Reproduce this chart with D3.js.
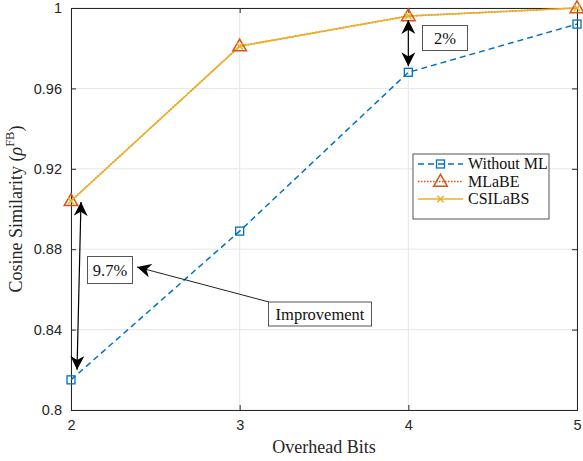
<!DOCTYPE html>
<html>
<head>
<meta charset="utf-8">
<script src="https://cdn.jsdelivr.net/npm/d3@7"></script>
<style>
  html, body { margin: 0; padding: 0; background: #fff; }
  svg { display: block; }
</style>
</head>
<body>
<svg id="chart" width="583" height="461"></svg>
<script>
// Overhead bits on the x axis
const overheadBits = [2, 3, 4, 5];
// Cosine similarity for each scheme
const withoutML = [0.815, 0.889, 0.968, 0.992];
const mlabe     = [0.904, 0.981, 0.996, 1.000];
const csilabs   = [0.904, 0.981, 0.996, 1.000];
const yTicks = [0.8, 0.84, 0.88, 0.92, 0.96, 1];
const xTicks = [2, 3, 4, 5];

const series = [
  { name: "Without ML", values: withoutML, color: "#0072BD", dash: "6,4", marker: "square" },
  { name: "MLaBE",      values: mlabe,     color: "#D95319", dash: "1.5,1.5", marker: "triangle" },
  { name: "CSILaBS",    values: csilabs,   color: "#EDB120", dash: null, marker: "cross" }
];

const svg = d3.select("#chart");
const m = { left: 71, right: 6, top: 8, bottom: 51 };
const W = 583, H = 461;
const x = d3.scaleLinear().domain([2, 5]).range([m.left, W - m.right]);
const y = d3.scaleLinear().domain([0.8, 1]).range([H - m.bottom, m.top]);
const axisColor = "#262626";

// grid
const g = svg.append("g");
g.selectAll("line.gx").data(xTicks).join("line")
  .attr("x1", d => x(d)).attr("x2", d => x(d))
  .attr("y1", y(0.8)).attr("y2", y(1))
  .attr("stroke", "#e6e6e6").attr("stroke-width", 1);
g.selectAll("line.gy").data(yTicks).join("line")
  .attr("x1", x(2)).attr("x2", x(5))
  .attr("y1", d => y(d)).attr("y2", d => y(d))
  .attr("stroke", "#e6e6e6").attr("stroke-width", 1);

// axes
const yFmt = d => (d === 1 ? "1" : d === 0.8 ? "0.8" : d3.format(".2f")(d));
const ax = svg.append("g").attr("transform", `translate(0,${y(0.8)})`)
  .call(d3.axisBottom(x).tickValues(xTicks).tickFormat(d3.format("d")).tickSize(-5).tickPadding(10));
const ay = svg.append("g").attr("transform", `translate(${x(2)},0)`)
  .call(d3.axisLeft(y).tickValues(yTicks).tickFormat(yFmt).tickSize(-5).tickPadding(9));
const ax2 = svg.append("g").attr("transform", `translate(0,${y(1)})`)
  .call(d3.axisTop(x).tickValues(xTicks).tickFormat("").tickSize(-5));
const ay2 = svg.append("g").attr("transform", `translate(${x(5)},0)`)
  .call(d3.axisRight(y).tickValues(yTicks).tickFormat("").tickSize(-5));
[ax, ay, ax2, ay2].forEach(a => {
  a.selectAll("path.domain").attr("stroke", axisColor).attr("stroke-width", 1);
  a.selectAll(".tick line").attr("stroke", axisColor);
  a.selectAll("text").attr("fill", axisColor)
    .style("font-family", "'Liberation Sans', Arial, sans-serif").style("font-size", "14.5px");
});

// axis labels
const serif = "'Liberation Serif', 'DejaVu Serif', serif";
svg.append("text").attr("x", (x(2) + x(5)) / 2).attr("y", 453)
  .attr("text-anchor", "middle").attr("fill", axisColor)
  .style("font-family", serif).style("font-size", "18px").text("Overhead Bits");
const yl = svg.append("text").attr("transform", `translate(22,${(y(0.8) + y(1)) / 2}) rotate(-90)`)
  .attr("text-anchor", "middle").attr("fill", axisColor)
  .style("font-family", serif).style("font-size", "18px");
yl.append("tspan").text("Cosine Similarity (");
yl.append("tspan").style("font-style", "italic").text("ρ");
yl.append("tspan").attr("dy", -8).style("font-size", "12.5px").text("FB");
yl.append("tspan").attr("dy", 8).text(")");

// markers
function drawMarker(sel, type, color, size) {
  if (type === "square") {
    sel.append("rect").attr("x", -size / 2).attr("y", -size / 2).attr("width", size).attr("height", size)
      .attr("fill", "none").attr("stroke", color).attr("stroke-width", 1.3);
  } else if (type === "triangle") {
    const s = size * 0.65;
    sel.append("path").attr("d", `M0,${-s} L${s * 0.95},${s * 0.65} L${-s * 0.95},${s * 0.65}Z`)
      .attr("fill", "none").attr("stroke", color).attr("stroke-width", 1.5);
  } else {
    const s = size * 0.4;
    sel.append("path").attr("d", `M${-s},${-s}L${s},${s}M${-s},${s}L${s},${-s}`)
      .attr("stroke", color).attr("stroke-width", 1.5);
  }
}

const line = d3.line().x((d, i) => x(overheadBits[i])).y(d => y(d));
series.forEach(s => {
  svg.append("path").datum(s.values).attr("d", line)
    .attr("fill", "none").attr("stroke", s.color).attr("stroke-width", s.dash === "1.5,1.5" ? 1.6 : 1.5)
    .attr("stroke-dasharray", s.dash);
});
series.forEach(s => {
  s.values.forEach((v, i) => {
    const mg = svg.append("g").attr("transform", `translate(${x(overheadBits[i])},${y(v)})`);
    drawMarker(mg, s.marker, s.color, s.marker === "triangle" ? 11 : 8);
  });
});

// annotations
const defs = svg.append("defs");
defs.append("marker").attr("id", "head").attr("viewBox", "0 0 10 10")
  .attr("refX", 10).attr("refY", 5).attr("markerWidth", 14).attr("markerHeight", 14)
  .attr("markerUnits", "userSpaceOnUse").attr("orient", "auto-start-reverse")
  .append("path").attr("d", "M0,0 L10,5 L0,10 L3,5 Z").attr("fill", "#000");

function doubleArrow(x1, y1, x2, y2) {
  svg.append("line").attr("x1", x1).attr("y1", y1).attr("x2", x2).attr("y2", y2)
    .attr("stroke", "#000").attr("stroke-width", 1.2)
    .attr("marker-start", "url(#head)").attr("marker-end", "url(#head)");
}
doubleArrow(x(2) + 10, y(mlabe[0]) + 1, x(2) + 6, y(withoutML[0]) - 10);
doubleArrow(x(4), y(mlabe[2]) + 4, x(4), y(withoutML[2]) - 6);

function textBox(cx, cy, w, h, label) {
  svg.append("rect").attr("x", cx - w / 2).attr("y", cy - h / 2).attr("width", w).attr("height", h)
    .attr("fill", "#fff").attr("stroke", "#555").attr("stroke-width", 1);
  svg.append("text").attr("x", cx).attr("y", cy + 5.5).attr("text-anchor", "middle")
    .attr("fill", "#111").style("font-family", serif).style("font-size", "16.5px").text(label);
}
// improvement pointer
svg.append("line").attr("x1", 269).attr("y1", 302).attr("x2", 137).attr("y2", 267)
  .attr("stroke", "#222").attr("stroke-width", 1).attr("marker-end", "url(#head)");
textBox(110, 270, 45, 27, "9.7%");
textBox(445, 38, 45, 25, "2%");
textBox(320, 314, 103, 24, "Improvement");

// legend
const lg = svg.append("g").attr("transform", "translate(413,154)");
lg.append("rect").attr("width", 136).attr("height", 65).attr("fill", "#fff")
  .attr("stroke", "#555").attr("stroke-width", 1);
series.forEach((s, i) => {
  const yy = 10 + i * 17.5;
  lg.append("line").attr("x1", 5).attr("x2", 50).attr("y1", yy).attr("y2", yy)
    .attr("stroke", s.color).attr("stroke-width", 1.5).attr("stroke-dasharray", s.dash);
  const mg = lg.append("g").attr("transform", `translate(27.5,${yy})`);
  drawMarker(mg, s.marker, s.color, s.marker === "triangle" ? 11 : 8);
  lg.append("text").attr("x", 55).attr("y", yy + 5).attr("fill", "#111")
    .style("font-family", serif).style("font-size", "16px").text(s.name);
});
</script>
</body>
</html>
